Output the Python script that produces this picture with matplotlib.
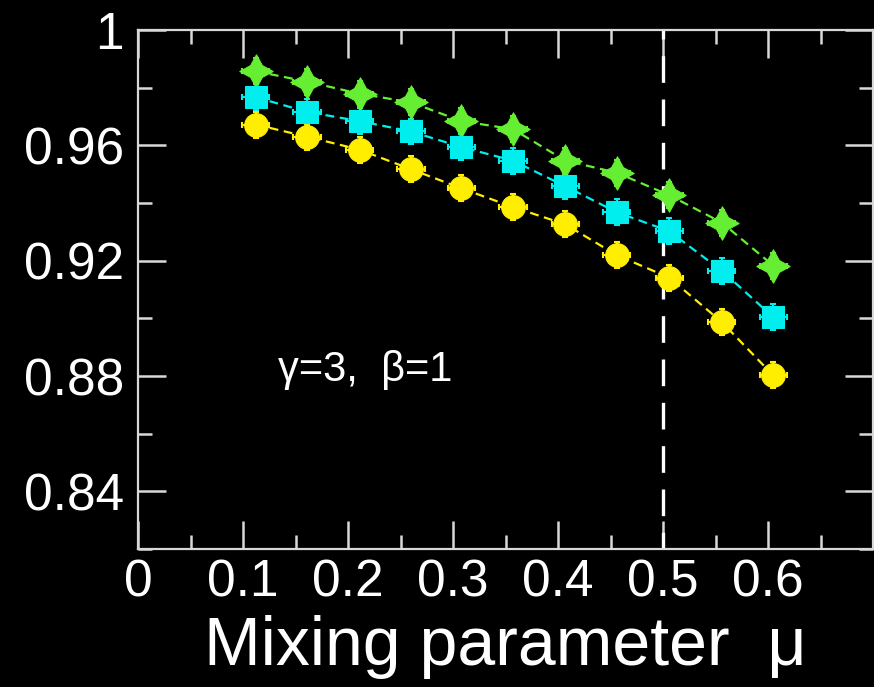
import matplotlib
matplotlib.use("Agg")
import matplotlib.pyplot as plt
from matplotlib.path import Path
from matplotlib.ticker import FixedLocator, FixedFormatter

# ---- data ----
mu = [0.112, 0.161, 0.211, 0.260, 0.308, 0.357, 0.407, 0.456, 0.506, 0.556, 0.605]
green_vals = [0.9857, 0.9821, 0.9779, 0.9749, 0.9684, 0.9656, 0.9547, 0.9505, 0.9427, 0.9332, 0.9183]
cyan_vals = [0.9767, 0.9716, 0.9684, 0.9648, 0.9594, 0.9547, 0.9458, 0.9368, 0.9302, 0.9165, 0.9004]
yellow_vals = [0.9672, 0.9630, 0.9585, 0.9517, 0.9451, 0.9386, 0.9326, 0.9219, 0.9141, 0.8987, 0.8802]
x_err = [0.013] * 11
y_err = [0.0045] * 11

x_major = [0, 0.1, 0.2, 0.3, 0.4, 0.5, 0.6, 0.7]
x_major_labels = ["0", "0.1", "0.2", "0.3", "0.4", "0.5", "0.6", ""]
x_minor = [0.05, 0.15, 0.25, 0.35, 0.45, 0.55, 0.65]
y_major = [0.84, 0.88, 0.92, 0.96, 1.0]
y_major_labels = ["0.84", "0.88", "0.92", "0.96", "1"]
y_minor = [0.82, 0.86, 0.90, 0.94, 0.98]
critical_mu = 0.5
annotation = "γ=3,  β=1"
xlabel = "Mixing parameter  μ"

plt.rcParams['font.family'] = ['Liberation Sans', 'DejaVu Sans']

W, H = 874, 687
fig = plt.figure(figsize=(W / 100, H / 100), dpi=100, facecolor='black')
ax = fig.add_axes([138 / W, 1 - 549 / H, (873 - 138) / W, (549 - 30) / H])
ax.set_facecolor('black')

star = Path.unit_regular_star(4, 0.5)

series = [
    (green_vals, '#66ee33', star, 24),
    (cyan_vals, '#00eeee', 's', 16),
    (yellow_vals, '#ffee00', 'o', 17),
]
for vals, col, mk, ms in series:
    ax.errorbar(mu, vals, xerr=x_err, yerr=y_err, fmt='none', ecolor=col,
                elinewidth=1.5, capsize=2.5, capthick=1.5, zorder=3)
    ax.plot(mu, vals, color=col, linestyle=(0, (4, 2.5)), linewidth=1.6,
            marker=mk, markersize=ms, markerfacecolor=col, markeredgecolor=col,
            markeredgewidth=0.8, zorder=4)

ax.axvline(critical_mu, color='white', linewidth=2.4, linestyle=(3, (8, 5)), zorder=2)

ax.text(0.133, 0.8784, annotation, color='white', fontsize=30, va='baseline', ha='left')

ax.set_xlim(0, 0.7)
ax.set_ylim(0.82, 1.0)

ax.xaxis.set_major_locator(FixedLocator(x_major))
ax.xaxis.set_major_formatter(FixedFormatter(x_major_labels))
ax.xaxis.set_minor_locator(FixedLocator(x_minor))
ax.yaxis.set_major_locator(FixedLocator(y_major))
ax.yaxis.set_major_formatter(FixedFormatter(y_major_labels))
ax.yaxis.set_minor_locator(FixedLocator(y_minor))

tick_col = '#d8d8d8'
ax.tick_params(which='both', direction='in', top=True, right=True, color=tick_col,
               labelcolor='white', width=1.8)
ax.tick_params(which='major', length=20, labelsize=37)
ax.tick_params(which='minor', length=10)
ax.tick_params(axis='y', which='major', pad=10)
ax.tick_params(axis='x', which='major', pad=7)

for s in ax.spines.values():
    s.set_color(tick_col)
    s.set_linewidth(1.6)

ax.set_xlabel(xlabel, color='white', fontsize=49, labelpad=5)

fig.savefig('out.png', dpi=100, facecolor='black')
